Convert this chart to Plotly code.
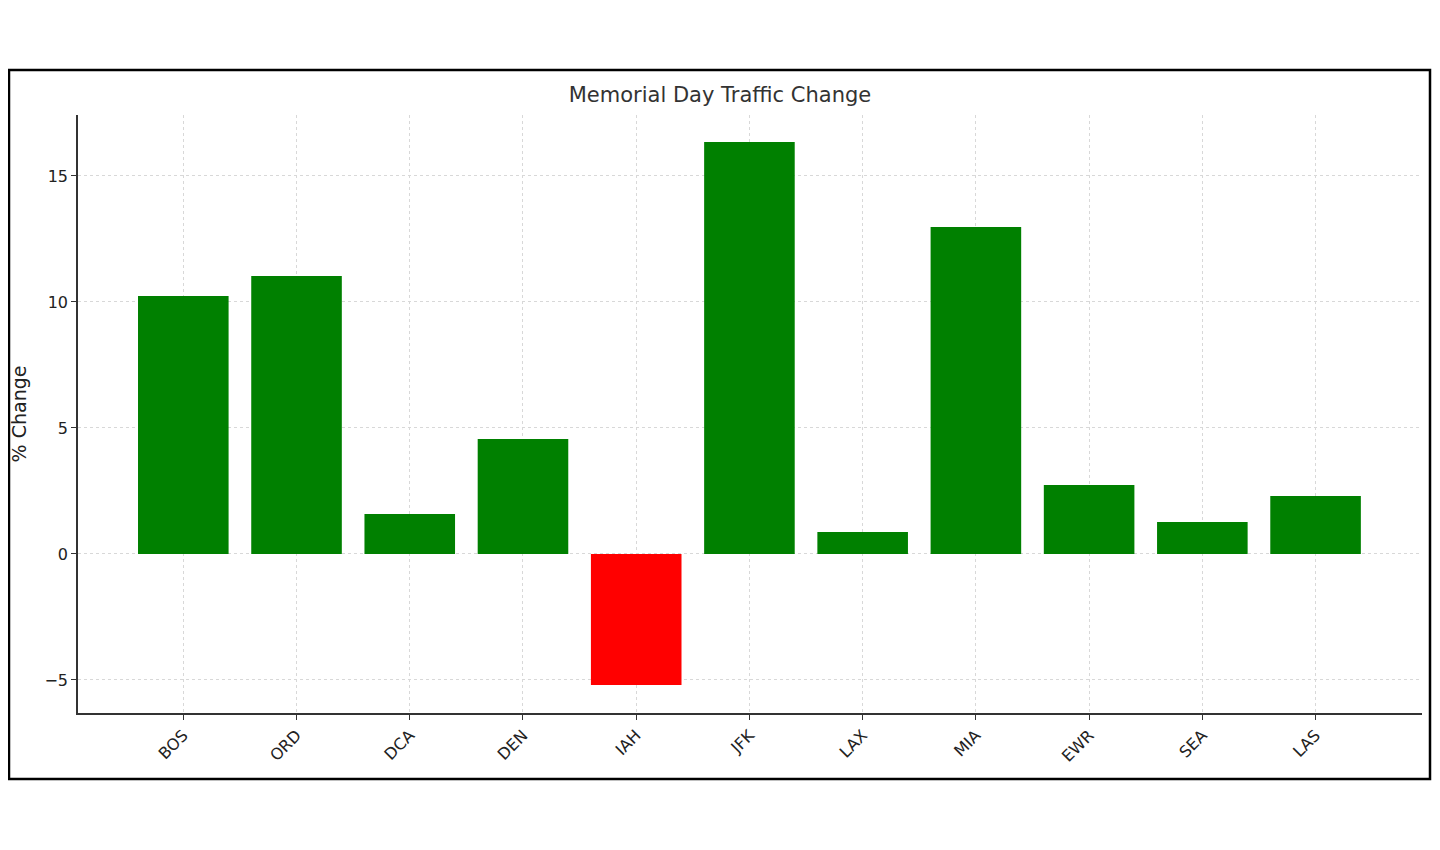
import plotly.graph_objects as go

airports = ["BOS","ORD","DCA","DEN","IAH","JFK","LAX","MIA","EWR","SEA","LAS"]
pct_change = [10.24, 11.03, 1.59, 4.56, -5.2, 16.35, 0.87, 12.98, 2.74, 1.27, 2.30]
colors = ["red" if v < 0 else "green" for v in pct_change]

fig = go.Figure(go.Bar(x=list(range(len(airports))), y=pct_change, marker_color=colors,
                       marker_line_width=0, width=0.8))

OFF = 8
W, H = 1440 - 2 * OFF, 850 - 2 * OFF
L, R, T, B = 78 - OFF, 1422 - OFF, 115 - OFF, 713 - OFF
def px(x): return (x - OFF - L) / (R - L)
def py(y): return (B - (y - OFF)) / (B - T)

fig.update_layout(
    width=W, height=H, margin=dict(l=L, r=W - R, t=T, b=H - B),
    paper_bgcolor="white", plot_bgcolor="white",
    font=dict(family="DejaVu Sans", size=16, color="#222"),
    title=dict(text="Memorial Day Traffic Change", x=px(750), xanchor="center",
               y=1 - (95 - OFF) / H, yanchor="middle", font=dict(size=21, color="#333")),
    showlegend=False, bargap=0.2,
    xaxis=dict(range=[-0.93, 10.94], tickmode="array", tickvals=list(range(len(airports))),
               ticktext=airports, tickangle=-45, showgrid=True, gridcolor="#d8d8d8",
               griddash="dot", showline=True, linecolor="#333", linewidth=1.5,
               ticks="outside", ticklen=5, tickcolor="#333", zeroline=False),
    yaxis=dict(range=[-6.31, 17.42], tickvals=[-5, 0, 5, 10, 15], ticktext=["−5","0","5","10","15"],
               showgrid=True, gridcolor="#d8d8d8", griddash="dot", showline=True,
               linecolor="#333", linewidth=1.5, ticks="outside", ticklen=5, tickcolor="#333",
               zeroline=False, title=dict(text="% Change", standoff=14)),
    shapes=[dict(type="rect", xref="paper", yref="paper", x0=px(OFF + 1), x1=px(1430),
                 y0=py(779), y1=py(70), line=dict(color="black", width=2.5), layer="above")],
)
fig.write_html("out.html")
